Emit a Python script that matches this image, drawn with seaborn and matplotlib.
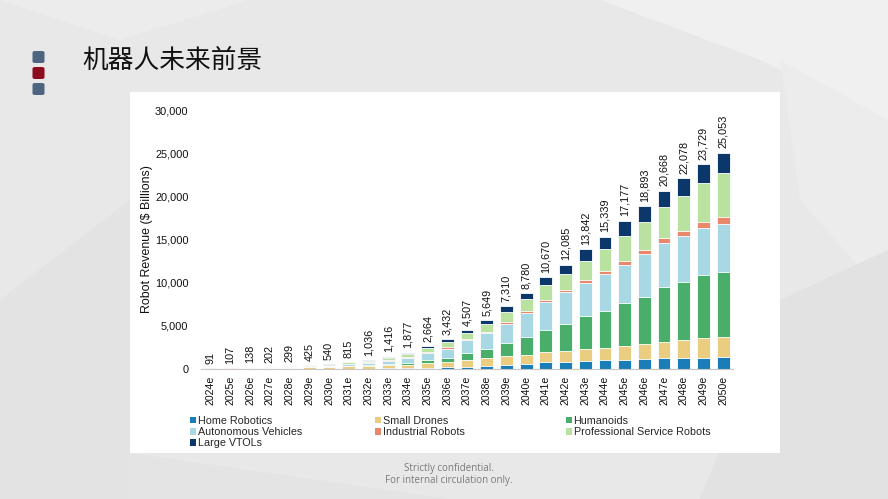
import pandas as pd
import seaborn as sns
import matplotlib.pyplot as plt
from matplotlib.patches import Rectangle, FancyBboxPatch, Polygon, Patch

# === Data ($ billions) ===
years = ["2024e", "2025e", "2026e", "2027e", "2028e", "2029e", "2030e", "2031e", "2032e",
         "2033e", "2034e", "2035e", "2036e", "2037e", "2038e", "2039e", "2040e", "2041e",
         "2042e", "2043e", "2044e", "2045e", "2046e", "2047e", "2048e", "2049e", "2050e"]

home_robotics = [7, 8, 10, 12, 15, 20, 25, 35, 45, 60, 77, 154, 193, 270, 386, 500, 580,
                 772, 849, 965, 1004, 1081, 1197, 1235, 1274, 1312, 1390]
small_drones = [28, 35, 50, 85, 130, 180, 220, 290, 330, 400, 425, 502, 618, 772, 850, 965,
                1080, 1158, 1235, 1312, 1428, 1544, 1660, 1891, 2084, 2239, 2355]
humanoids = [0, 0, 0, 1, 3, 5, 10, 30, 60, 120, 232, 386, 502, 772, 1080, 1505, 2007, 2586,
             3127, 3845, 4299, 4979, 5520, 6388, 6715, 7325, 7495]
autonomous_vehicles = [2, 4, 8, 15, 35, 60, 90, 180, 250, 350, 487, 772, 1042, 1535, 1831,
                       2295, 2874, 3297, 3671, 3860, 4246, 4478, 4902, 5095, 5288, 5404, 5560]
industrial_robots = [36, 38, 40, 45, 50, 55, 60, 70, 80, 100, 116, 116, 154, 154, 116, 232,
                     193, 232, 270, 309, 386, 425, 463, 540, 618, 733, 850]
professional_service = [18, 22, 30, 42, 60, 90, 110, 150, 190, 260, 347, 502, 653, 695, 1000,
                        1080, 1351, 1660, 1891, 2200, 2509, 2856, 3298, 3628, 4092, 4516, 5020]
large_vtols = [0, 0, 0, 2, 6, 15, 25, 60, 81, 126, 193, 232, 270, 309, 386, 733, 695, 965,
               1042, 1351, 1467, 1814, 1853, 1891, 2007, 2200, 2383]
totals = [91, 107, 138, 202, 299, 425, 540, 815, 1036, 1416, 1877, 2664, 3432, 4507, 5649,
          7310, 8780, 10670, 12085, 13842, 15339, 17177, 18893, 20668, 22078, 23729, 25053]

# stacking order, bottom -> top
series = [
    ("Home Robotics", home_robotics, "#1b7db8"),
    ("Small Drones", small_drones, "#ebcd82"),
    ("Humanoids", humanoids, "#4aae6b"),
    ("Autonomous Vehicles", autonomous_vehicles, "#a9d8e5"),
    ("Industrial Robots", industrial_robots, "#e8876b"),
    ("Professional Service Robots", professional_service, "#b9e2a1"),
    ("Large VTOLs", large_vtols, "#0b376a"),
]

df = pd.DataFrame({name: vals for name, vals, _ in series})
df["year"] = years
cum = df[[s[0] for s in series]].cumsum(axis=1)

sns.set_theme(style="white")
plt.rcParams["font.family"] = ["Liberation Sans", "DejaVu Sans"]

W, H = 888, 499
fig = plt.figure(figsize=(W / 100, H / 100), dpi=100)
fig.patch.set_facecolor("#e8e8e8")


def px(x, y):
    return x / W, 1 - y / H


# faint low-poly background
bg_polys = [
    ([(600, 0), (888, 0), (888, 120), (760, 60)], "#f0f0f0"),
    ([(780, 60), (888, 120), (888, 300), (800, 200)], "#ececec"),
    ([(0, 0), (250, 0), (120, 40)], "#ececec"),
    ([(0, 300), (130, 200), (130, 499), (0, 499)], "#e3e3e3"),
    ([(780, 300), (888, 250), (888, 499), (700, 499)], "#e2e2e2"),
    ([(130, 453), (450, 499), (130, 499)], "#e4e4e4"),
]
for pts, col in bg_polys:
    fig.patches.append(Polygon([px(*p) for p in pts], closed=True, transform=fig.transFigure,
                               facecolor=col, edgecolor="none", zorder=-3))

# white chart panel
x0, y0 = px(130, 453)
fig.patches.append(Rectangle((x0, y0), 650 / W, 361 / H, transform=fig.transFigure,
                             facecolor="white", edgecolor="none", zorder=-2))

# header markers
for ytop, col in [(51, "#4d6580"), (67, "#8e0a1e"), (83, "#4d6580")]:
    bx, by = px(32.5, ytop + 12)
    fig.patches.append(FancyBboxPatch((bx, by), 12 / W, 12 / H, transform=fig.transFigure,
                                      boxstyle="round,pad=0,rounding_size=0.003",
                                      facecolor=col, edgecolor="none", zorder=-1))

fig.text(*px(82, 61), "机器人未来前景", fontsize=18.5, va="center", ha="left",
         color="#111111", family=["Noto Sans CJK SC", "DejaVu Sans"])

# chart axes
ax = fig.add_axes([201 / W, 1 - 369 / H, 532 / W, 259 / H])
ax.set_facecolor("none")

# stacked bars: draw cumulative totals from the top layer down
for i in range(len(series) - 1, -1, -1):
    name, _, col = series[i]
    sns.barplot(x=df["year"], y=cum[name], color=col, width=0.65, ax=ax,
                linewidth=0.6, edgecolor="white", saturation=1, errorbar=None)

for i, (yr, tot) in enumerate(zip(years, totals)):
    ax.text(i, cum.iloc[i, -1] + 500, f"{tot:,}", rotation=90, ha="center", va="bottom",
            fontsize=7.8, color="#111111", clip_on=False)

ax.set_ylim(0, 30000)
ax.set_xlim(-0.5, len(years) - 0.5)
ax.set_yticks(range(0, 30001, 5000))
ax.set_yticklabels([f"{v:,}" for v in range(0, 30001, 5000)])
ax.tick_params(axis="y", length=0, pad=9, labelsize=7.9, labelcolor="#111111")
ax.tick_params(axis="x", length=0, pad=5, labelsize=7.6, labelcolor="#111111", rotation=90)
ax.set_xlabel("")
ax.set_ylabel("Robot Revenue ($ Billions)", fontsize=8.9, color="#111111")
ax.yaxis.set_label_coords(-0.09, 0.5)
for side in ["top", "right", "left"]:
    ax.spines[side].set_visible(False)
ax.spines["bottom"].set_color("#c8c8c8")
ax.spines["bottom"].set_linewidth(0.8)

# legend in three columns
columns = [(190, [0, 3, 6]), (375, [1, 4]), (566, [2, 5])]
for xcol, idx in columns:
    handles = [Patch(facecolor=series[k][2], edgecolor="none", label=series[k][0]) for k in idx]
    fig.legend(handles=handles, loc="upper left", bbox_to_anchor=px(xcol, 416),
               frameon=False, fontsize=7.75, handlelength=0.55, handleheight=0.55,
               handletextpad=0.15, labelspacing=0.1, borderpad=0, borderaxespad=0)

fig.text(*px(449, 468), "Strictly confidential.", ha="center", va="center", fontsize=7,
         color="#7a7a7a", family="Open Sans")
fig.text(*px(449, 481), "For internal circulation only.", ha="center", va="center",
         fontsize=7, color="#7a7a7a", family="Open Sans")

fig.savefig("out.png", dpi=100, facecolor=fig.get_facecolor())
plt.close(fig)
